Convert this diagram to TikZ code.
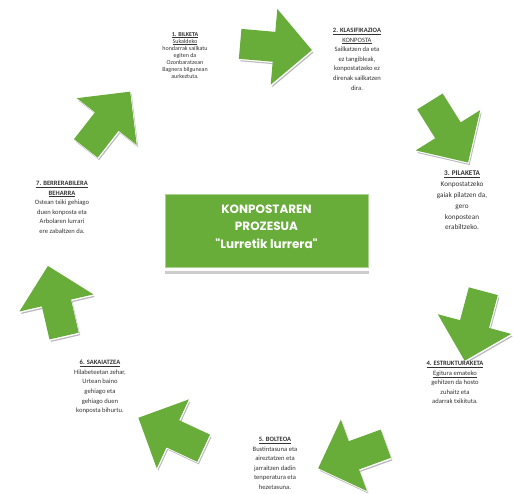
\documentclass[tikz,border=0pt]{standalone}
\usepackage{fontspec}
\setmainfont{Carlito}
\newfontfamily\izenfont{Poppins}
\definecolor{konpberde}{RGB}{104,172,58}
\def\geziaforma{(-36,-15) -- (-2,-15) -- (-2,-38) -- (36,0) -- (-2,38) -- (-2,15) -- (-36,15) -- cycle}
\tikzset{
  urratsa/.style={align=center, text=black!80, inner sep=0pt, anchor=north},
  txiki/.style={font=\fontsize{6}{7}\selectfont},
  ertain/.style={font=\fontsize{6.6}{9.6}\selectfont},
  handi/.style={font=\fontsize{7.2}{10.8}\selectfont}
}
\begin{document}
\begin{tikzpicture}[x=1pt,y=1pt]
    \useasboundingbox (0,0) rectangle (519,494);
    % zikloaren geziak
    \foreach \gx/\gy/\ga in {276/447/-5, 449/362/-58, 474/168/255, 352/38/200, 171/61/155, 56/193/103, 108/374/52}{
        \fill[gray!55, shift={(\gx+1.5,\gy-2.5)}, rotate=\ga] \geziaforma;
        \fill[white, shift={(\gx+0.8,\gy-1.3)}, rotate=\ga] \geziaforma;
        \fill[konpberde, shift={(\gx,\gy)}, rotate=\ga] \geziaforma;
    }
    % erdiko laukia
    \node[fill=konpberde, draw=konpberde!55!white, line width=1pt, minimum width=203pt, minimum height=73pt] (prozesua) at (266.5,262.5) {};
    \node[text=white, align=center, inner sep=0pt, font=\izenfont\bfseries\fontsize{12}{17.5}\selectfont] (izenburua) at ([yshift=5pt]prozesua.center) {KONPOSTAREN\\PROZESUA\\"Lurretik lurrera"};
    \fill[gray!40] ([yshift=-3pt]prozesua.south west) rectangle ([yshift=-6pt]prozesua.south east);
    % urratsak
    \node[urratsa, txiki] (bilketa) at (185,462) {\underline{\textbf{1. BILKETA}}\\\underline{Sukaldeko}\\hondarrak sailkatu\\egiten da\\Ozonbaratzean\\Bagnera bilgunean\\aurkeztuta.};
    \node[urratsa, ertain] (klasif) at (357,466) {\underline{\textbf{2. KLASIFIKAZIOA}}\\\underline{KONPOSTA}\\Sailkatzen da eta\\ez tangibleak,\\konpostatzeko ez\\direnak sailkatzen\\dira.};
    \node[urratsa, handi] (pilaketa) at (462,323) {\underline{\textbf{3. PILAKETA}}\\Konpostatzeko\\gaiak pilatzen da,\\gero\\konpostean\\erabiltzeko.};
    \node[urratsa, ertain] (egitura) at (455,133) {\underline{\textbf{4. ESTRUKTURAKETA}}\\\underline{Egitura emateko}\\gehitzen da hosto\\zuhaitz eta\\adarrak txikituta.};
    \node[urratsa, ertain] (bolteoa) at (275,57) {\underline{\textbf{5. BOLTEOA}}\\Bustintasuna eta\\aireztatzen eta\\jarraitzen dadin\\tenperatura eta\\hezetasuna.};
    \node[urratsa, ertain] (sakaia) at (100,134) {\underline{\textbf{6. SAKAIATZEA}}\\Hilabeteetan zehar,\\Urtean baino\\gehiago eta\\gehiago duen\\konposta bihurtu.};
    \node[urratsa, ertain] (berrerab) at (62,313) {\underline{\textbf{7. BERRERABILERA}}\\\underline{\textbf{BEHARRA}}\\Ostean txiki gehiago\\duen konposta eta\\Arbolaren lurrari\\ere zabaltzen da.};
\end{tikzpicture}
\end{document}
